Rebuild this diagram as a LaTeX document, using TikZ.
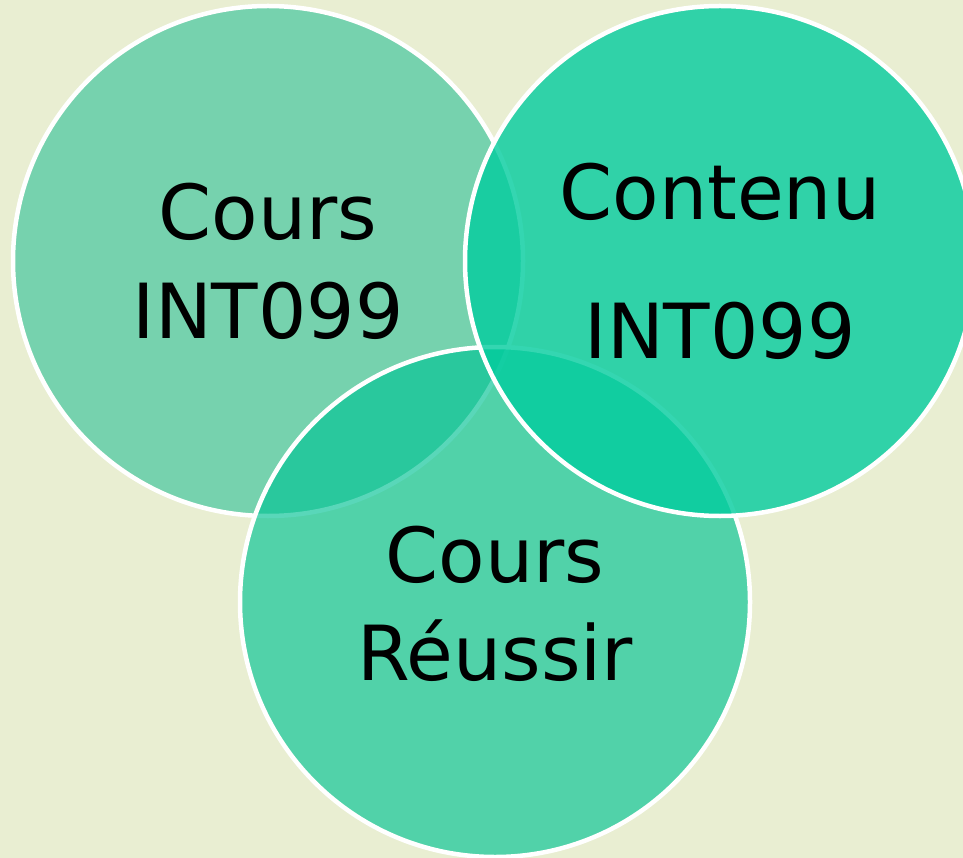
\documentclass[tikz,border=0pt]{standalone}
\usepackage{fontspec}
\setmainfont{DejaVu Sans}
\definecolor{bgc}{RGB}{233,238,210}
\definecolor{cl}{RGB}{5,184,140}
\definecolor{cb}{RGB}{1,195,148}
\definecolor{cr}{RGB}{2,204,158}
\begin{document}
\begin{tikzpicture}[x=1pt,y=-1pt,
  ring/.style={circle, inner sep=0pt, minimum size=510pt, draw=white, line width=4.5pt},
  lbl/.style={anchor=base, font=\fontsize{76}{80}\selectfont, text=black}]
\useasboundingbox (0,0) rectangle (963,858);
\clip (0,0) rectangle (963,858);
\fill[bgc] (0,0) rectangle (963,858);
\node[ring, fill=cl, fill opacity=0.5] (L) at (268,261) {};
\node[ring, fill=cb, fill opacity=0.65] (B) at (495,602) {};
\node[ring, fill=cr, fill opacity=0.8] (R) at (720,261) {};
\node[lbl] (l1) at (268,240) {Cours};
\node[lbl] (l2) at (268,338) {INT099};
\node[lbl] (r1) at (720,220) {Contenu};
\node[lbl] (r2) at (720,358) {INT099};
\node[lbl] (b1) at (495,582) {Cours};
\node[lbl] (b2) at (495,680) {Réussir};
\end{tikzpicture}
\end{document}
